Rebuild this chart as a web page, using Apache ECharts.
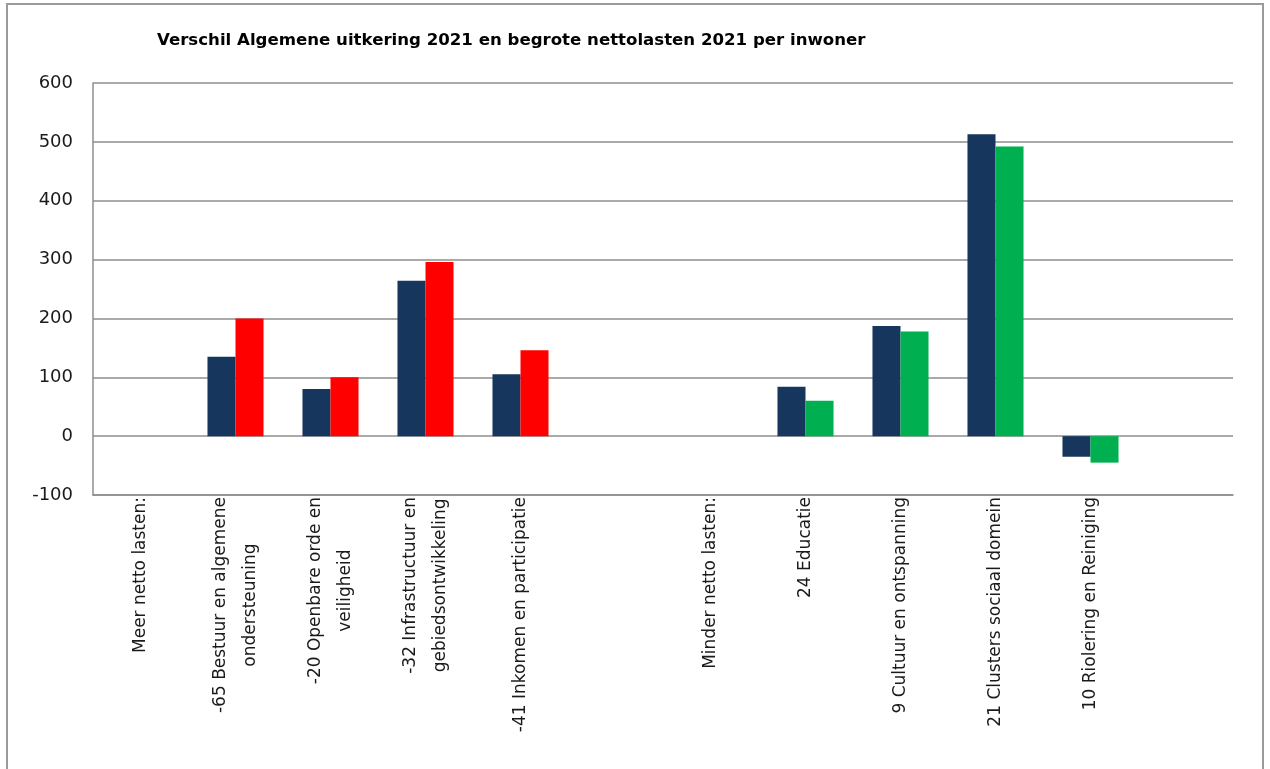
<!DOCTYPE html>
<html>
<head>
<meta charset="utf-8">
<script src="https://cdn.jsdelivr.net/npm/echarts@6/dist/echarts.min.js"></script>
<style>
  html, body { margin: 0; padding: 0; background: #fff; }
  #chart { width: 1270px; height: 769px; }
</style>
</head>
<body>
<div id="chart"></div>
<script>
// Categories (lines of each rotated label)
const categories = [
  ['Meer netto lasten:'],
  ['-65 Bestuur en algemene', 'ondersteuning'],
  ['-20 Openbare orde en', 'veiligheid'],
  ['-32 Infrastructuur en', 'gebiedsontwikkeling'],
  ['-41 Inkomen en participatie'],
  [''],
  ['Minder netto lasten:'],
  ['24 Educatie'],
  ['9 Cultuur en ontspanning'],
  ['21 Clusters sociaal domein'],
  ['10 Riolering en Reiniging'],
  ['']
];
// Algemene uitkering 2021 per inwoner
const uitkering = [null, 135, 80, 264, 105, null, null, 84, 187, 513, -35, null];
// Begrote nettolasten 2021 per inwoner (meer netto lasten)
const lastenMeer = [null, 200, 100, 296, 146, null, null, null, null, null, null, null];
// Begrote nettolasten 2021 per inwoner (minder netto lasten)
const lastenMinder = [null, null, null, null, null, null, null, 60, 178, 492, -45, null];
// Value axis ticks
const yMin = -100, yMax = 600, yStep = 100;

const catKeys = categories.map((c, i) => 'c' + i);

const chart = echarts.init(document.getElementById('chart'));
chart.setOption({
  animation: false,
  backgroundColor: '#ffffff',
  title: {
    text: 'Verschil Algemene uitkering 2021 en begrote nettolasten 2021 per inwoner',
    left: 152,
    top: 27,
    textStyle: { fontFamily: 'DejaVu Sans', fontWeight: 'bold', fontSize: 16.6, color: '#000' }
  },
  graphic: [{
    type: 'rect', silent: true,
    shape: { x: 7, y: 4, width: 1256, height: 800 },
    style: { fill: 'none', stroke: '#9a9a9a', lineWidth: 2 }
  }],
  grid: { left: 93, right: 37, top: 83, bottom: 274, containLabel: false },
  xAxis: {
    type: 'category',
    data: catKeys,
    axisLine: { show: true, onZero: false, lineStyle: { color: '#8e8e8e', width: 1.5 } },
    axisTick: { show: false },
    axisLabel: {
      interval: 0,
      rotate: 90,
      margin: 2,
      fontFamily: 'DejaVu Sans',
      fontSize: 17,
      color: '#1a1a1a',
      formatter: function (v) {
        const lines = categories[catKeys.indexOf(v)];
        return lines.map(l => '{a|' + l + '}').join('\n');
      },
      rich: {
        a: { align: 'center', fontFamily: 'DejaVu Sans', fontSize: 17, color: '#1a1a1a', lineHeight: 30 }
      }
    },
    splitLine: { show: false }
  },
  yAxis: {
    type: 'value',
    min: yMin, max: yMax, interval: yStep,
    axisLine: { show: true, lineStyle: { color: '#8e8e8e', width: 1.5 } },
    axisTick: { show: false },
    axisLabel: { margin: 20, fontFamily: 'DejaVu Sans', fontSize: 18, color: '#1a1a1a' },
    splitLine: { show: true, lineStyle: { color: '#8e8e8e', width: 1.5 } }
  },
  series: [
    {
      name: 'Algemene uitkering 2021', type: 'bar', data: uitkering,
      barGap: '0%', barCategoryGap: '41%',
      itemStyle: { color: '#17365D' }
    },
    {
      name: 'Begrote nettolasten 2021', type: 'bar', stack: 'lasten', data: lastenMeer,
      itemStyle: { color: '#FF0000' }
    },
    {
      name: 'Begrote nettolasten 2021 ', type: 'bar', stack: 'lasten', data: lastenMinder,
      itemStyle: { color: '#00B050' }
    }
  ]
});
</script>
</body>
</html>
